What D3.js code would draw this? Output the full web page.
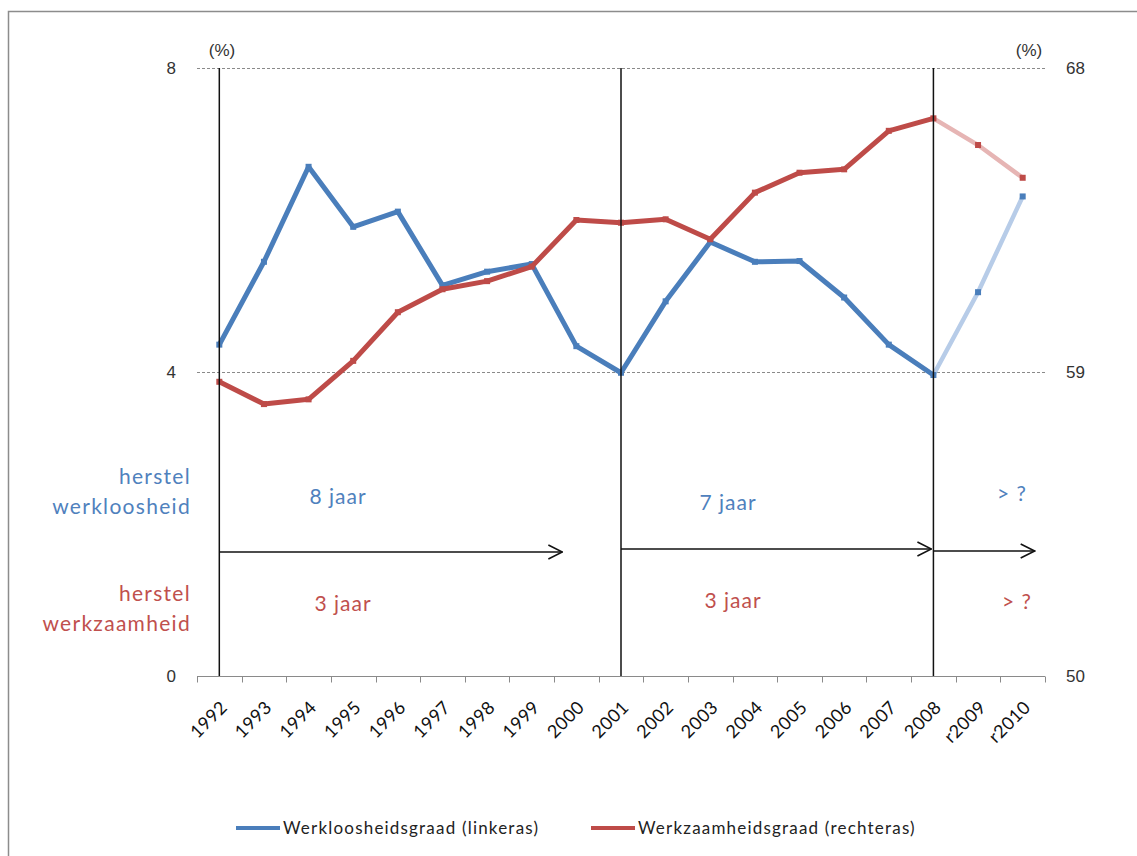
<!DOCTYPE html>
<html>
<head>
<meta charset="utf-8">
<script src="https://cdn.jsdelivr.net/npm/d3@7"></script>
<style>
  body { margin: 0; background: #fff; }
  svg { display: block; }
  .tick-label { font-family: "Liberation Sans", Arial, sans-serif; font-size: 17px; fill: #333; }
  .cal { font-family: Lato, "Open Sans", sans-serif; }
</style>
</head>
<body>
<div id="chart"></div>
<script>
// Categories and values
const years = ["1992", "1993", "1994", "1995", "1996", "1997", "1998", "1999", "2000",
  "2001", "2002", "2003", "2004", "2005", "2006", "2007", "2008", "r2009", "r2010"];

// Werkloosheidsgraad (left axis, %)
const unemployment = [4.36, 5.45, 6.70, 5.91, 6.11, 5.14, 5.32, 5.42, 4.34,
  3.99, 4.93, 5.71, 5.45, 5.46, 4.98, 4.36, 3.96, 5.05, 6.31];

// Werkzaamheidsgraad (right axis, %)
const employment = [58.71, 58.05, 58.19, 59.33, 60.77, 61.45, 61.69, 62.12, 63.50,
  63.42, 63.52, 62.93, 64.31, 64.90, 65.00, 66.14, 66.51, 65.72, 64.75];

// First projected category (r-years are drawn lighter)
const projectedFrom = "2008";

const leftTicks = [0, 4, 8];
const rightTicks = [50, 59, 68];

// Recovery markers: vertical lines and arrows
const markerYears = ["1992", "2001", "2008"];
const recoveryUnemployment = ["8 jaar", "7 jaar", "> ?"];
const recoveryEmployment = ["3 jaar", "3 jaar", "> ?"];

const legendLabels = ["Werkloosheidsgraad (linkeras)", "Werkzaamheidsgraad (rechteras)"];

class RecoveryChart {
  constructor(_config) {
    this.config = {
      parentElement: _config.parentElement,
      width: 1137,
      height: 856,
      plot: { left: 197, right: 1045, top: 68, bottom: 676 },
      blue: "#4A7EBB",
      red: "#BE4B48",
      blueLight: "#B7CCE8",
      redLight: "#E6B5B4",
      blueText: "#4F81BD",
      redText: "#C0504D",
    };
    this.initVis();
  }

  initVis() {
    const vis = this;
    const c = vis.config;

    vis.svg = d3.select(c.parentElement).append("svg")
      .attr("width", c.width)
      .attr("height", c.height);

    // outer frame
    vis.svg.append("rect")
      .attr("x", 8.5).attr("y", 11.5)
      .attr("width", c.width).attr("height", c.height)
      .attr("fill", "none").attr("stroke", "#8c8c8c").attr("stroke-width", 1.5);

    vis.x = d3.scaleBand().domain(years).range([c.plot.left, c.plot.right]);
    vis.yLeft = d3.scaleLinear().domain([0, 8]).range([c.plot.bottom, c.plot.top]);
    vis.yRight = d3.scaleLinear().domain([50, 68]).range([c.plot.bottom, c.plot.top]);
    vis.cx = (d) => vis.x(d) + vis.x.bandwidth() / 2;

    vis.updateVis();
  }

  updateVis() {
    const vis = this;
    const c = vis.config;

    // dashed gridlines (not at zero)
    vis.svg.append("g").selectAll("line")
      .data(leftTicks.filter((d) => d > 0))
      .join("line")
      .attr("x1", c.plot.left).attr("x2", c.plot.right)
      .attr("y1", (d) => Math.round(vis.yLeft(d)) + 0.5)
      .attr("y2", (d) => Math.round(vis.yLeft(d)) + 0.5)
      .attr("stroke", "#8a8a8a")
      .attr("stroke-dasharray", "3,2");

    // x axis with ticks between categories
    const xAxis = vis.svg.append("g")
      .attr("transform", `translate(0,${c.plot.bottom + 0.5})`);
    xAxis.append("line")
      .attr("x1", c.plot.left).attr("x2", c.plot.right)
      .attr("stroke", "#8a8a8a");
    xAxis.selectAll("line.tk")
      .data(years.concat(["end"]))
      .join("line")
      .attr("class", "tk")
      .attr("x1", (d, i) => Math.round(c.plot.left + i * vis.x.step()) + 0.5)
      .attr("x2", (d, i) => Math.round(c.plot.left + i * vis.x.step()) + 0.5)
      .attr("y1", 0).attr("y2", 6)
      .attr("stroke", "#8a8a8a");
    xAxis.selectAll("text")
      .data(years)
      .join("text")
      .attr("class", "cal")
      .attr("transform", (d) => `translate(${vis.cx(d) + 9},${32}) rotate(-45)`)
      .attr("text-anchor", "end")
      .attr("font-size", 18)
      .attr("letter-spacing", 0.4)
      .attr("fill", "#111")
      .text((d) => d);

    // y tick labels
    vis.svg.append("g").selectAll("text")
      .data(leftTicks).join("text")
      .attr("class", "tick-label")
      .attr("x", 176).attr("y", (d) => vis.yLeft(d) + 6)
      .attr("text-anchor", "end")
      .text((d) => d);
    vis.svg.append("g").selectAll("text")
      .data(rightTicks).join("text")
      .attr("class", "tick-label")
      .attr("x", 1066).attr("y", (d) => vis.yRight(d) + 6)
      .text((d) => d);

    vis.svg.append("text").attr("class", "tick-label")
      .attr("x", 222).attr("y", 56).attr("text-anchor", "middle").attr("font-size", 19)
      .text("(%)");
    vis.svg.append("text").attr("class", "tick-label")
      .attr("x", 1029).attr("y", 56).attr("text-anchor", "middle").attr("font-size", 19)
      .text("(%)");

    // series
    const split = years.indexOf(projectedFrom);
    const series = [
      { values: unemployment, y: vis.yLeft, color: c.blue, light: c.blueLight },
      { values: employment, y: vis.yRight, color: c.red, light: c.redLight },
    ];
    const line = (s) => d3.line()
      .x((d) => vis.cx(d.year))
      .y((d) => s.y(d.value));

    series.forEach((s) => {
      const pts = years.map((year, i) => ({ year, value: s.values[i] }));
      const g = vis.svg.append("g");
      g.append("path")
        .datum(pts.slice(split))
        .attr("d", line(s))
        .attr("fill", "none")
        .attr("stroke", s.light)
        .attr("stroke-width", 4.5);
      g.append("path")
        .datum(pts.slice(0, split + 1))
        .attr("d", line(s))
        .attr("fill", "none")
        .attr("stroke", s.color)
        .attr("stroke-width", 5)
        .attr("stroke-linejoin", "round");
      g.selectAll("rect")
        .data(pts).join("rect")
        .attr("x", (d) => vis.cx(d.year) - 3)
        .attr("y", (d) => s.y(d.value) - 3)
        .attr("width", 6).attr("height", 6)
        .attr("fill", s.color);
    });

    // vertical recovery marker lines
    vis.svg.append("g").selectAll("line")
      .data(markerYears).join("line")
      .attr("x1", (d) => vis.cx(d)).attr("x2", (d) => vis.cx(d))
      .attr("y1", c.plot.top).attr("y2", c.plot.bottom)
      .attr("stroke", "#111").attr("stroke-width", 1.5);

    // arrows between markers
    vis.svg.append("defs").append("marker")
      .attr("id", "head")
      .attr("viewBox", "0 0 16 16")
      .attr("refX", 15).attr("refY", 8)
      .attr("markerWidth", 16).attr("markerHeight", 16)
      .attr("markerUnits", "userSpaceOnUse")
      .attr("orient", "auto")
      .append("path")
      .attr("d", "M1,1 L15,8 L1,15")
      .attr("fill", "none").attr("stroke", "#111").attr("stroke-width", 1.6);

    const arrows = [
      { x1: vis.cx("1992"), x2: vis.cx("2000") - 14, y: 552 },
      { x1: vis.cx("2001"), x2: vis.cx("2008") - 2, y: 549 },
      { x1: vis.cx("2008"), x2: vis.cx("r2010") + 12, y: 551 },
    ];
    vis.svg.append("g").selectAll("line")
      .data(arrows).join("line")
      .attr("x1", (d) => d.x1).attr("x2", (d) => d.x2)
      .attr("y1", (d) => d.y).attr("y2", (d) => d.y)
      .attr("stroke", "#111").attr("stroke-width", 1.5)
      .attr("marker-end", "url(#head)");

    // side labels
    const side = vis.svg.append("g").attr("class", "cal")
      .attr("font-size", 21).attr("letter-spacing", 1.3).attr("text-anchor", "end");
    side.append("text").attr("x", 191).attr("y", 484).attr("fill", c.blueText).text("herstel");
    side.append("text").attr("x", 191).attr("y", 514).attr("fill", c.blueText).text("werkloosheid");
    side.append("text").attr("x", 191).attr("y", 601).attr("fill", c.redText).text("herstel");
    side.append("text").attr("x", 191).attr("y", 631).attr("fill", c.redText).text("werkzaamheid");

    // durations
    const spanCenters = [338, 728, 1012];
    const dur = vis.svg.append("g").attr("class", "cal")
      .attr("font-size", 21).attr("letter-spacing", 1).attr("text-anchor", "middle");
    dur.selectAll("text.u")
      .data(recoveryUnemployment).join("text")
      .attr("class", "u")
      .attr("x", (d, i) => spanCenters[i])
      .attr("y", (d, i) => [504, 510, 501][i])
      .attr("fill", c.blueText)
      .text((d) => d);
    dur.selectAll("text.e")
      .data(recoveryEmployment).join("text")
      .attr("class", "e")
      .attr("x", (d, i) => spanCenters[i] + 5)
      .attr("y", (d, i) => [611, 608, 609][i])
      .attr("fill", c.redText)
      .text((d) => d);

    // legend
    const legend = vis.svg.append("g").attr("class", "cal");
    const legendX = [236, 591];
    [c.blue, c.red].forEach((col, i) => {
      legend.append("line")
        .attr("x1", legendX[i]).attr("x2", legendX[i] + 44)
        .attr("y1", 828).attr("y2", 828)
        .attr("stroke", col).attr("stroke-width", 4);
      legend.append("text")
        .attr("x", legendX[i] + 47).attr("y", 834)
        .attr("font-size", 17).attr("letter-spacing", 1.2).attr("fill", "#222")
        .text(legendLabels[i]);
    });
  }
}

new RecoveryChart({ parentElement: "#chart" });
</script>
</body>
</html>
